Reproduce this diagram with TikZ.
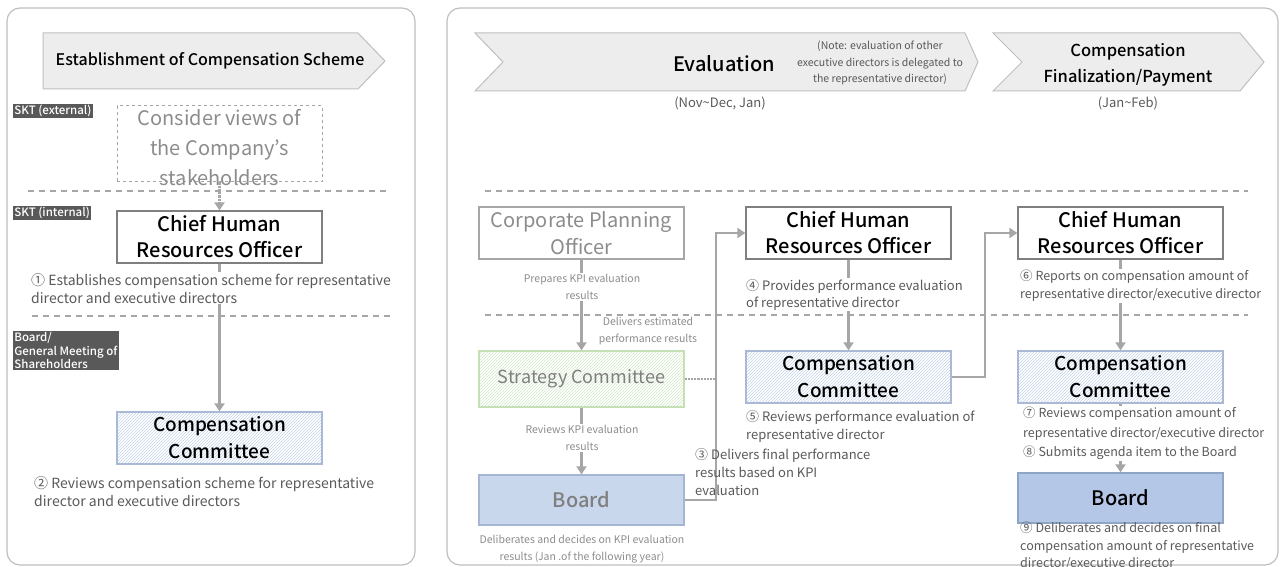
\documentclass[tikz,border=0pt]{standalone}
\usepackage{fontspec}
\setmainfont{Noto Sans CJK KR}[BoldFont={Noto Sans CJK KR Medium}]
\usetikzlibrary{arrows.meta,patterns}

\definecolor{panelgray}{HTML}{BFBFBF}
\definecolor{bannerfill}{HTML}{EDEDED}
\definecolor{bannerline}{HTML}{BFBFBF}
\definecolor{tagfill}{HTML}{595959}
\definecolor{connect}{HTML}{A6A6A6}
\definecolor{boxline}{HTML}{7F7F7F}
\definecolor{softline}{HTML}{A6A6A6}
\definecolor{softtext}{HTML}{8C8C8C}
\definecolor{noteText}{HTML}{595959}
\definecolor{ccline}{HTML}{A9B9D6}
\definecolor{cchatch}{HTML}{C5D3EA}
\definecolor{scline}{HTML}{C5E0B4}
\definecolor{schatch}{HTML}{D5E8CB}
\definecolor{boardpale}{HTML}{C8D7EC}
\definecolor{boardpaleline}{HTML}{A4B6D2}
\definecolor{boardfill}{HTML}{B4C7E7}
\definecolor{boardline}{HTML}{8FA5C6}

\newcommand{\fs}[2]{\fontsize{#1}{#2}\selectfont}

\begin{document}
\begin{tikzpicture}[x=1pt,y=-1pt,
  panel/.style={draw=panelgray, line width=1.2pt, rounded corners=13pt},
  banner/.style={draw=bannerline, fill=bannerfill, line width=1pt},
  tag/.style={fill=tagfill, text=white, font=\fs{11.5}{13.5}\bfseries,
    inner sep=1.2pt, anchor=north west, align=left},
  rolebox/.style={draw=boxline, line width=1.3pt, fill=white,
    minimum width=205pt, minimum height=52pt, inner sep=0pt, align=center,
    font=\fs{20}{26}\bfseries},
  softbox/.style={draw=softline, line width=1.3pt, fill=white,
    minimum width=205pt, minimum height=52pt, inner sep=0pt, align=center,
    text=softtext, font=\fs{20}{27}},
  ccbox/.style={draw=ccline, line width=1.3pt, preaction={fill=white},
    pattern=north east lines, pattern color=cchatch,
    minimum width=205pt, minimum height=52pt, inner sep=0pt, align=center,
    font=\fs{19}{27}\bfseries},
  scbox/.style={draw=scline, line width=1.3pt, preaction={fill=white},
    pattern=north east lines, pattern color=schatch,
    minimum width=205pt, minimum height=56pt, inner sep=0pt, align=center,
    text=boxline, font=\fs{18}{24}},
  boardbox/.style={line width=1.3pt, minimum width=205pt, minimum height=50pt,
    inner sep=0pt, align=center, font=\fs{20}{26}\bfseries},
  conn/.style={draw=connect, line width=2.2pt},
  arr/.style={conn, -{Triangle[length=8pt,width=10pt]}},
  sep/.style={draw=connect, line width=1.2pt, dash pattern=on 6pt off 5pt},
  note/.style={font=\fs{14}{18}, text=noteText, align=left, anchor=north west,
    inner sep=1pt},
  mid/.style={font=\fs{13}{18}, text=noteText, align=left, anchor=north west,
    inner sep=1pt},
  tiny/.style={font=\fs{10.5}{17}, text=softtext, align=center, inner sep=1pt},
]
\useasboundingbox (0,0) rectangle (1283,567);

% ---------- panels ----------
\draw[panel] (7,8) rectangle (415,565);
\draw[panel] (447,8) rectangle (1278,565);

% ---------- stage banners ----------
\draw[banner] (43,33) -- (358,33) -- (385,61) -- (358,89) -- (43,89) -- cycle;
\node[font=\fs{16}{20}\bfseries] (t1) at (210,61) {Establishment of Compensation Scheme};

\draw[banner] (475,33) -- (965,33) -- (978,62) -- (965,91) -- (475,91) -- (503,62) -- cycle;
\node[font=\fs{20}{24}\bfseries] (t2) at (724,64) {Evaluation};
\node[font=\fs{10.5}{16.5}, text=noteText, align=center] (t2n) at (880,63)
  {(Note: evaluation of other\\executive directors is delegated to\\the representative director)};
\node[font=\fs{13}{16}, text=noteText] (t2d) at (720,103) {(Nov\textasciitilde Dec, Jan)};

\draw[banner] (993,33) -- (1240,33) -- (1264,62) -- (1240,91) -- (993,91) -- (1022,62) -- cycle;
\node[font=\fs{16.5}{26}\bfseries, align=center] (t3) at (1128,65) {Compensation\\Finalization/Payment};
\node[font=\fs{13}{16}, text=noteText] (t3d) at (1128,103) {(Jan\textasciitilde Feb)};

% ---------- row separators ----------
\draw[sep] (28,191) -- (390,191);
\draw[sep] (32,316) -- (392,316);
\draw[sep] (485,191) -- (1248,191);
\draw[sep] (485,315) -- (1248,315);

% ---------- row tags ----------
\node[tag] (tagext) at (13,104) {SKT (external)};
\node[tag] (tagint) at (13,206) {SKT (internal)};
\node[tag] (tagbrd) at (13,331) {Board/\\General Meeting of\\Shareholders};

% ---------- left column ----------
\node[draw=softline, line width=1pt, dashed, minimum width=205pt, minimum height=76pt]
  (cons) at (219.5,144) {};
\node[font=\fs{20}{30}, text=softtext, align=center] (consT) at (219.5,148)
  {Consider views of\\the Company’s\\stakeholders};
\node[rolebox] (chro1) at (219.5,237) {Chief Human\\Resources Officer};
\node[ccbox] (cc1) at (219.5,438) {Compensation\\Committee};

\draw[conn, densely dotted, -{Triangle[length=8pt,width=10pt]}] (cons.south) -- (chro1.north);
\draw[arr] (chro1.south) -- (cc1.north);

\node[note, fill=white] (n1) at (30,272)
  {① Establishes compensation scheme for representative\\director and executive directors};
\node[note] (n2) at (33,475)
  {② Reviews compensation scheme for representative\\director and executive directors};

% ---------- evaluation column ----------
\node[softbox] (cpo) at (581.5,233) {Corporate Planning\\Officer};
\node[scbox] (sc) at (581.5,379) {Strategy Committee};
\node[boardbox, draw=boardpaleline, fill=boardpale, text=boxline] (brd1) at (581.5,500) {Board};

\draw[arr] (cpo.south) -- (sc.north);
\draw[arr] (sc.south) -- (brd1.north);

\node[tiny, fill=white] (p1) at (582,287) {Prepares KPI evaluation\\results};
\node[tiny] (p2) at (648,331) {Delivers estimated\\performance results};
\node[tiny, fill=white] (p3) at (582,438) {Reviews KPI evaluation\\results};
\node[tiny] (p4) at (582,549) {Deliberates and decides on KPI evaluation\\results (Jan .of the following year)};

% ---------- performance review column ----------
\node[rolebox] (chro2) at (848.5,233) {Chief Human\\Resources Officer};
\node[ccbox] (cc2) at (848.5,377) {Compensation\\Committee};

\coordinate (bend3) at (716,233);
\draw[conn, densely dotted, line width=1.6pt] (sc.east) -- (sc.east -| bend3);
\draw[arr] (brd1.east) -| (bend3) -- (chro2.west);
\draw[arr] (chro2.south) -- (cc2.north);

\node[mid] (n3) at (694,447) {③ Delivers final performance\\results based on KPI\\evaluation};
\node[mid, fill=white, font=\fs{13}{17}] (n4) at (745,278)
  {④ Provides performance evaluation\\of representative director};
\node[mid, font=\fs{13}{18}] (n5) at (745,409)
  {⑤ Reviews performance evaluation of\\representative director};

% ---------- finalization column ----------
\node[rolebox] (chro3) at (1120.5,233) {Chief Human\\Resources Officer};
\node[ccbox] (cc3) at (1120.5,377) {Compensation\\Committee};
\node[boardbox, draw=boardline, fill=boardfill] (brd3) at (1120.5,498) {Board};

\coordinate (bend6) at (985,233);
\draw[arr] (cc2.east) -| (bend6) -- (chro3.west);
\draw[arr] (chro3.south) -- (cc3.north);
\draw[arr] (cc3.south) -- (brd3.north);

\node[mid, fill=white, font=\fs{12.5}{18}] (n6) at (1019,269)
  {⑥ Reports on compensation amount of\\representative director/executive director};
\node[mid, fill=white, font=\fs{12.5}{19.5}] (n7) at (1022,406)
  {⑦ Reviews compensation amount of\\representative director/executive director\\⑧ Submits agenda item to the Board};
\node[mid, font=\fs{12.5}{17.5}] (n9) at (1019,521)
  {⑨ Deliberates and decides on final\\compensation amount of representative\\director/executive director};
\end{tikzpicture}
\end{document}
